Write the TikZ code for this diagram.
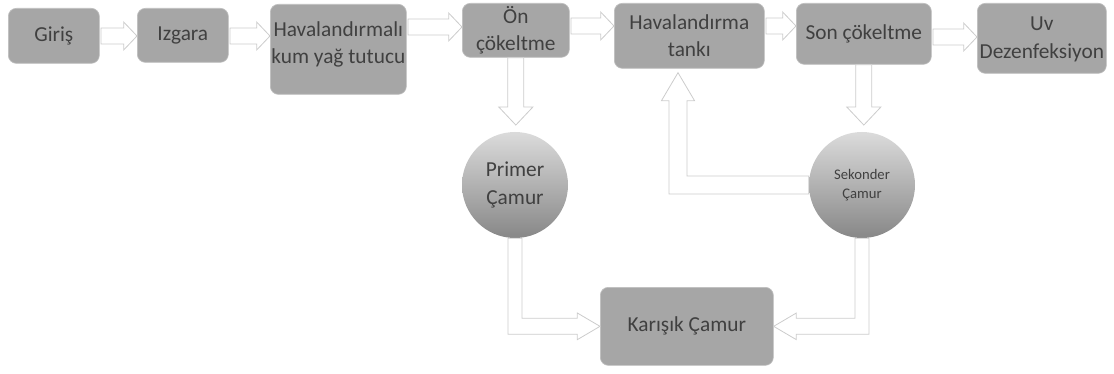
\documentclass[tikz,border=0pt]{standalone}
\usepackage{fontspec}
\setmainfont{Carlito}
\usetikzlibrary{calc,positioning}
\definecolor{aaaaaa}{rgb}{0.65,0.65,0.65}
\definecolor{bfbfbf}{rgb}{0.75,0.75,0.75}
\definecolor{cccccc}{rgb}{0.8,0.8,0.8}
\definecolor{dadada}{rgb}{0.86,0.86,0.86}
\definecolor{888888}{rgb}{0.53,0.53,0.53}
\definecolor{404040}{rgb}{0.25,0.25,0.25}
\tikzset{
  kutu/.style={draw=bfbfbf,line width=0.5pt,fill=aaaaaa,rounded corners=6pt,inner sep=0pt,anchor=north west,text=404040,font=\fontsize{16}{20}\selectfont,align=center},
  yazi/.style={inner sep=0pt,text=404040,font=\fontsize{16}{20}\selectfont,align=center},
  daire/.style={circle,draw=none,inner sep=0pt,minimum size=79.5pt,top color=dadada,bottom color=888888,text=404040,align=center},
  okblok/.style={draw=cccccc,fill=white,line width=0.6pt,line join=miter}
}
\newcommand{\sagok}[3]{%
  \draw[okblok] let \p1=(#1.east), \p2=(#2.west), \p3=(0,#3) in
    (\x1+1pt,\y3+6pt) -- (\x2-10pt,\y3+6pt) -- (\x2-10pt,\y3+10.5pt) -- (\x2,\y3)
    -- (\x2-10pt,\y3-10.5pt) -- (\x2-10pt,\y3-6pt) -- (\x1+1pt,\y3-6pt) -- cycle;}
\newcommand{\asagiok}[2]{%
  \draw[okblok] let \p1=(#1.south), \p2=(#2.north) in
    (\x1-6pt,\y1) -- (\x1-6pt,\y2+18.5pt) -- (\x1-12.75pt,\y2+18.5pt) -- (\x1,\y2+5pt)
    -- (\x1+12.75pt,\y2+18.5pt) -- (\x1+6pt,\y2+18.5pt) -- (\x1+6pt,\y1) -- cycle;}
\begin{document}
\begin{tikzpicture}[x=0.75pt,y=-0.75pt]
    \useasboundingbox (0,0) rectangle (1114,374);
    \node[kutu,minimum width=68.25pt,minimum height=41.25pt] (giris) at (8,8) {Giriş};
    \node[kutu,minimum width=68.25pt,minimum height=40.5pt] (izgara) at (137,8) {Izgara};
    \node[kutu,minimum width=102pt,minimum height=67.5pt] (hav) at (270,4) {};
    \node[yazi,anchor=north] (havyazi) at ([yshift=-13pt]hav.north) {Havalandırmalı\\kum yağ tutucu};
    \node[kutu,minimum width=80.25pt,minimum height=40.5pt] (on) at (462,3) {Ön\\çökeltme};
    \node[kutu,minimum width=112.5pt,minimum height=48.75pt] (tank) at (614,3) {Havalandırma\\tankı};
    \node[kutu,minimum width=101.25pt,minimum height=45.75pt] (son) at (796,3) {Son çökeltme};
    \node[kutu,minimum width=96.75pt,minimum height=52.5pt] (uv) at (977,3) {};
    \node[yazi,anchor=north,font=\fontsize{16}{21}\selectfont] (uvyazi) at ([yshift=-10pt]uv.north) {Uv\\Dezenfeksiyon};
    \node[kutu,minimum width=129.75pt,minimum height=58.5pt] (karisik) at (600,287) {Karışık Çamur};
    \node[daire,font=\fontsize{16}{21}\selectfont] (primer) at (515,185) {Primer\\Çamur};
    \node[daire,font=\fontsize{11}{14.5}\selectfont] (sekonder) at (862,185) {Sekonder\\Çamur};
    \sagok{giris}{izgara}{36}
    \sagok{izgara}{hav}{36}
    \sagok{hav}{on}{27}
    \sagok{on}{tank}{26}
    \sagok{tank}{son}{26}
    \sagok{son}{uv}{37}
    \asagiok{on}{primer}
    \asagiok{son}{sekonder}
    \draw[okblok] let \p1=(sekonder.west), \p2=(tank.south), \p3=(678,0) in
      (\x1,\y1+6.75pt) -- (\x3+6.75pt,\y1+6.75pt) -- (\x3+6.75pt,\y2-24pt) -- (\x3+12.4pt,\y2-24pt)
      -- (\x3,\y2-3pt) -- (\x3-12.4pt,\y2-24pt) -- (\x3-6.75pt,\y2-24pt) -- (\x3-6.75pt,\y1-6.75pt)
      -- (\x1,\y1-6.75pt) -- cycle;
    \draw[okblok] let \p1=(primer.south), \p2=(karisik.west) in
      (\x1-5.25pt,\y1) -- (\x1-5.25pt,\y2-6pt) -- (\x2-17pt,\y2-6pt) -- (\x2-17pt,\y2-10pt) -- (\x2,\y2)
      -- (\x2-17pt,\y2+10pt) -- (\x2-17pt,\y2+6pt) -- (\x1+5.25pt,\y2+6pt) -- (\x1+5.25pt,\y1) -- cycle;
    \draw[okblok] let \p1=(sekonder.south), \p2=(karisik.east) in
      (\x1+5.25pt,\y1) -- (\x1+5.25pt,\y2-6pt) -- (\x2+17pt,\y2-6pt) -- (\x2+17pt,\y2-10pt) -- (\x2,\y2)
      -- (\x2+17pt,\y2+10pt) -- (\x2+17pt,\y2+6pt) -- (\x1-5.25pt,\y2+6pt) -- (\x1-5.25pt,\y1) -- cycle;
\end{tikzpicture}
\end{document}
